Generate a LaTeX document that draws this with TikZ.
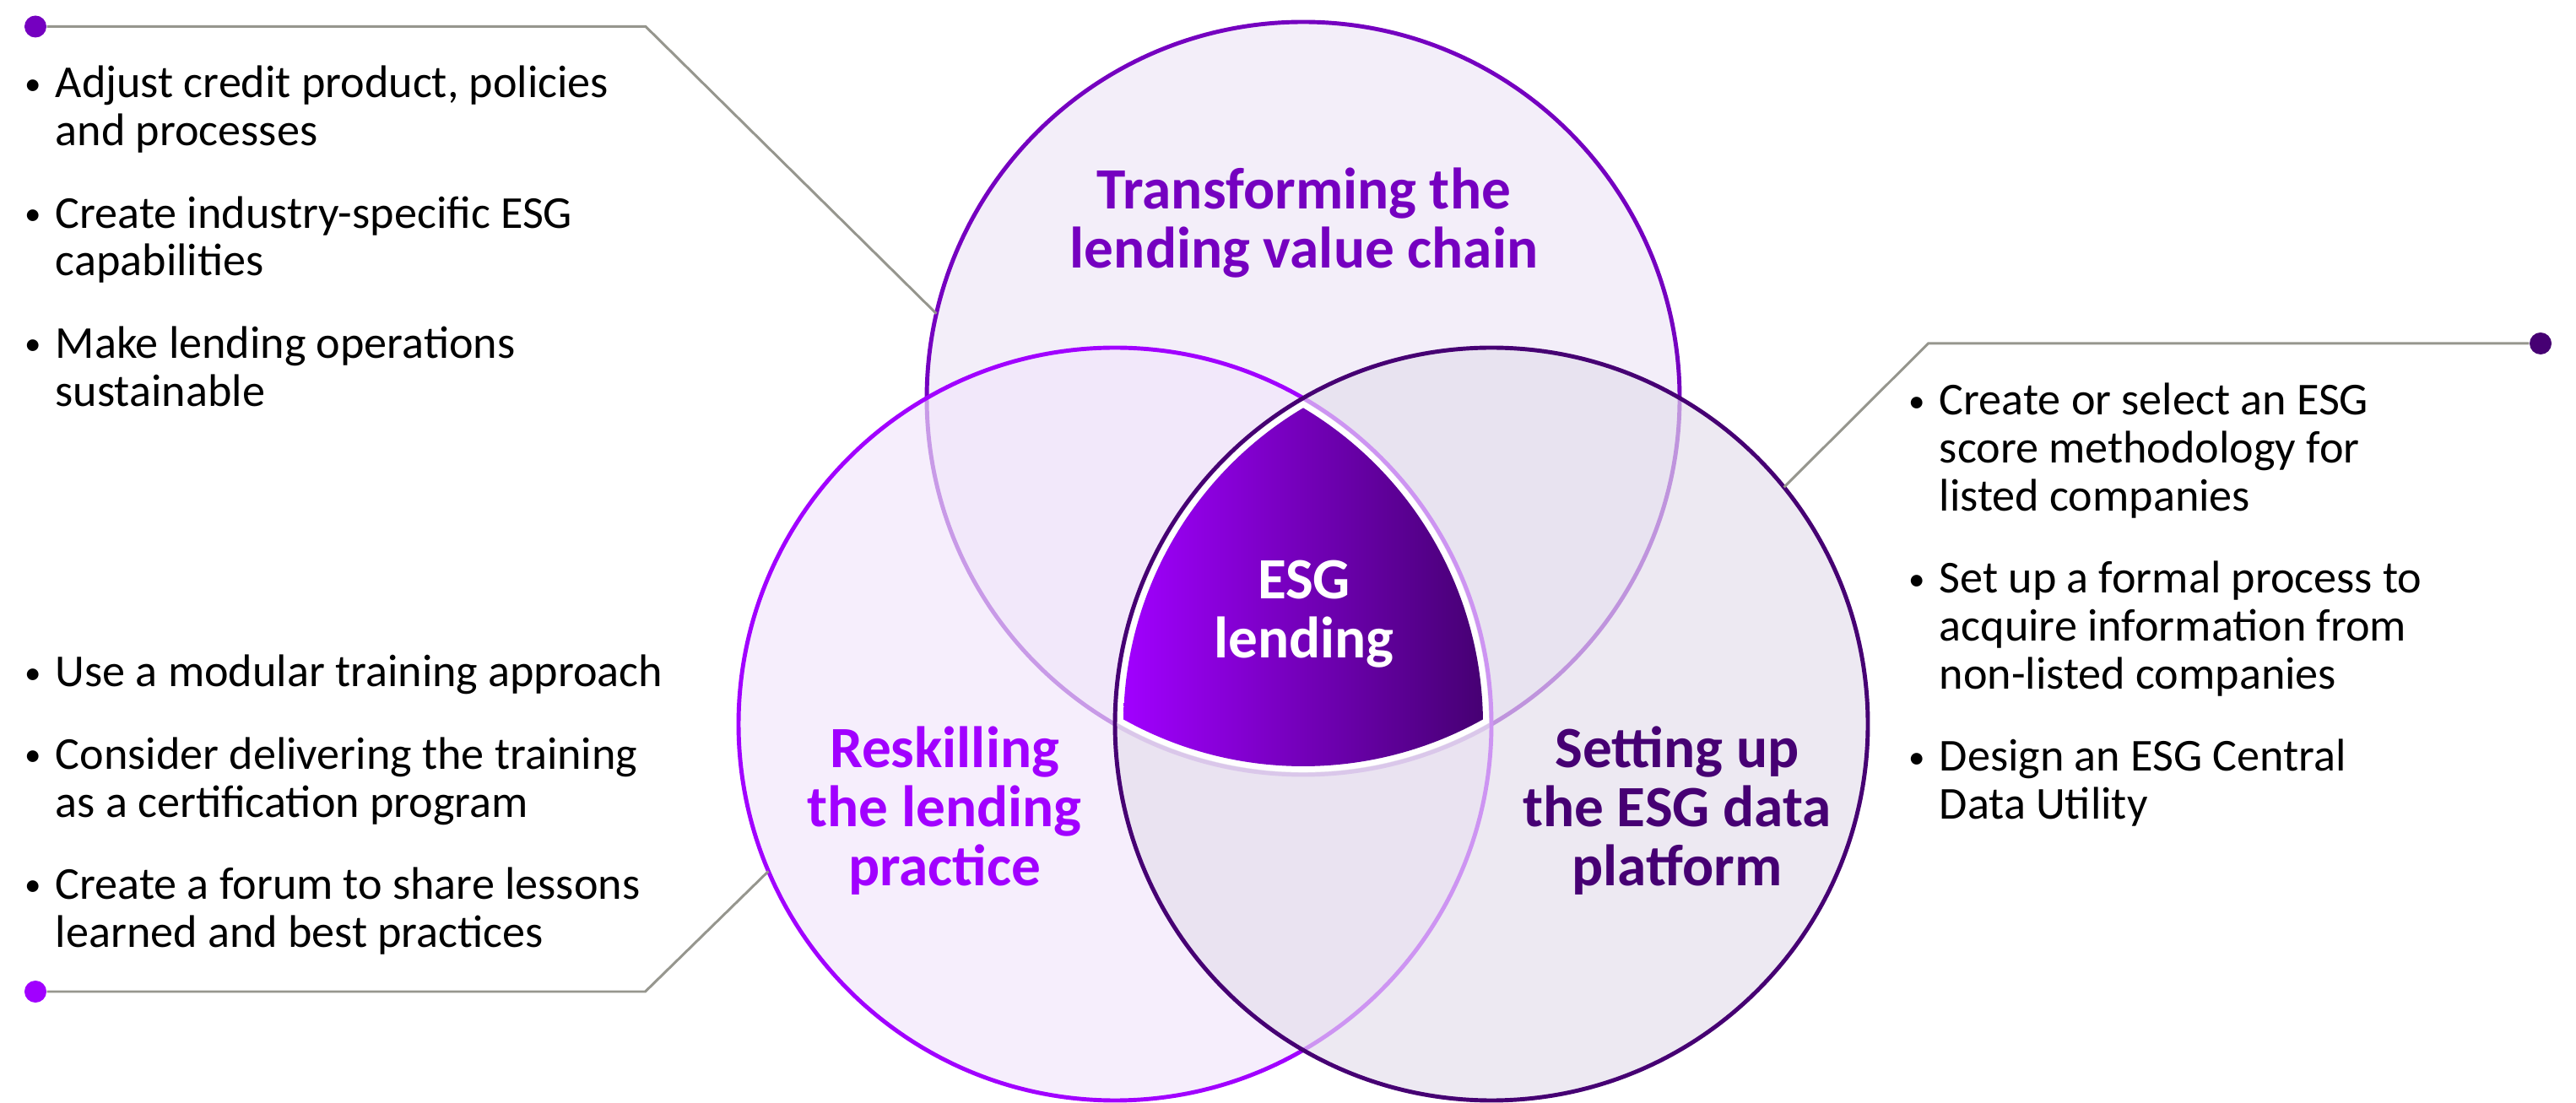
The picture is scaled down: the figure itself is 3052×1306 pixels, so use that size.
\documentclass[tikz,border=0pt]{standalone}
\usepackage{fontspec}
\setmainfont{Carlito}
\usetikzlibrary{calc}
\definecolor{pA}{HTML}{A100FF}
\definecolor{pB}{HTML}{7500C0}
\definecolor{pC}{HTML}{460073}
\definecolor{fT}{HTML}{F3EEF9}
\definecolor{fL}{RGB}{242,230,251}
\definecolor{fR}{RGB}{228,222,236}
\definecolor{lineg}{RGB}{150,150,142}
\newcommand{\bl}{\makebox[7.4pt]{\raisebox{1pt}{\scalebox{0.72}{\textbullet}}}}
\begin{document}
\begin{tikzpicture}[x=0.01cm,y=0.01cm,
  body/.style={font=\fontsize{15.4}{16.2}\selectfont, inner sep=0pt, anchor=base west, text=black},
  ttl/.style={font=\fontsize{19.7}{19.9}\selectfont\bfseries, inner sep=0pt, anchor=base},
  conn/.style={draw=lineg, line width=0.85pt},
  dotn/.style={circle, inner sep=0pt, minimum size=0.26cm},
  ring/.style={line width=1.4pt}]
\useasboundingbox (0,0) rectangle (3052,1306);
\coordinate (T) at (1544,834);
\coordinate (L) at (1321,448);
\coordinate (R) at (1767,448);
% circles
\path[ring, fill=fT, draw=pB] (T) circle[radius=446];
\path[ring, fill=fL, fill opacity=0.67, draw=pA] (L) circle[radius=446];
\path[ring, fill=fR, fill opacity=0.67, draw=pC] (R) circle[radius=446];
% centre shape
\fill[white] ($(T)+(240.22:443)$) arc[start angle=240.22, end angle=299.78, radius=443]
  -- ($(L)+(0.22:443)$) arc[start angle=0.22, end angle=59.78, radius=443]
  -- ($(R)+(120.22:443)$) arc[start angle=120.22, end angle=179.78, radius=443] -- cycle;
\shade[left color=pA, right color=pC] ($(T)+(240.76:436)$) arc[start angle=240.76, end angle=299.24, radius=436]
  -- ($(L)+(0.76:436)$) arc[start angle=0.76, end angle=59.24, radius=436]
  -- ($(R)+(120.76:436)$) arc[start angle=120.76, end angle=179.24, radius=436] -- cycle;
% titles
\node[ttl, text=pB] (ttop) at (1545,1058) {\begin{tabular}[t]{@{}c@{}}Transforming the\\lending value chain\end{tabular}};
\node[ttl, text=pA] (tleft) at (1119,396) {\begin{tabular}[t]{@{}c@{}}Reskilling\\the lending\\practice\end{tabular}};
\node[ttl, text=pC] (tright) at (1987,396) {\begin{tabular}[t]{@{}c@{}}Setting up\\the ESG data\\platform\end{tabular}};
\node[ttl, text=white] (tesg) at (1545,596) {\begin{tabular}[t]{@{}c@{}}ESG\\lending\end{tabular}};
% connectors
\coordinate (c1) at (765,1274.5);
\coordinate (e1) at ($(T)+(167:446)$);
\coordinate (c2) at (764.5,131);
\coordinate (e2) at ($(L)+(203:446)$);
\coordinate (c3) at (2284.5,899);
\coordinate (e3) at ($(R)+(39:446)$);
\node[dotn, fill=pB] (d1) at (42,1274.5) {};
\node[dotn, fill=pA] (d2) at (42,131) {};
\node[dotn, fill=pC] (d3) at (3010,899) {};
\draw[conn] (d1) -- (c1) -- (e1);
\draw[conn] (d2) -- (c2) -- (e2);
\draw[conn] (d3) -- (c3) -- (e3);
% bullet texts
\node[body] (btl) at (25,1190) {\begin{tabular}[t]{@{}l@{\hspace{4pt}}l@{}}
\bl & Adjust credit product, policies\\ & and processes\\[11.4pt]
\bl & Create industry-specific ESG\\ & capabilities\\[11.4pt]
\bl & Make lending operations\\ & sustainable
\end{tabular}};
\node[body] (bbl) at (25,492) {\begin{tabular}[t]{@{}l@{\hspace{4pt}}l@{}}
\bl & Use a modular training approach\\[11.4pt]
\bl & Consider delivering the training\\ & as a certification program\\[11.4pt]
\bl & Create a forum to share lessons\\ & learned and best practices
\end{tabular}};
\node[body] (bri) at (2257,814) {\begin{tabular}[t]{@{}l@{\hspace{4pt}}l@{}}
\bl & Create or select an ESG\\ & score methodology for\\ & listed companies\\[11.4pt]
\bl & Set up a formal process to\\ & acquire information from\\ & non-listed companies\\[11.4pt]
\bl & Design an ESG Central\\ & Data Utility
\end{tabular}};
\end{tikzpicture}
\end{document}
